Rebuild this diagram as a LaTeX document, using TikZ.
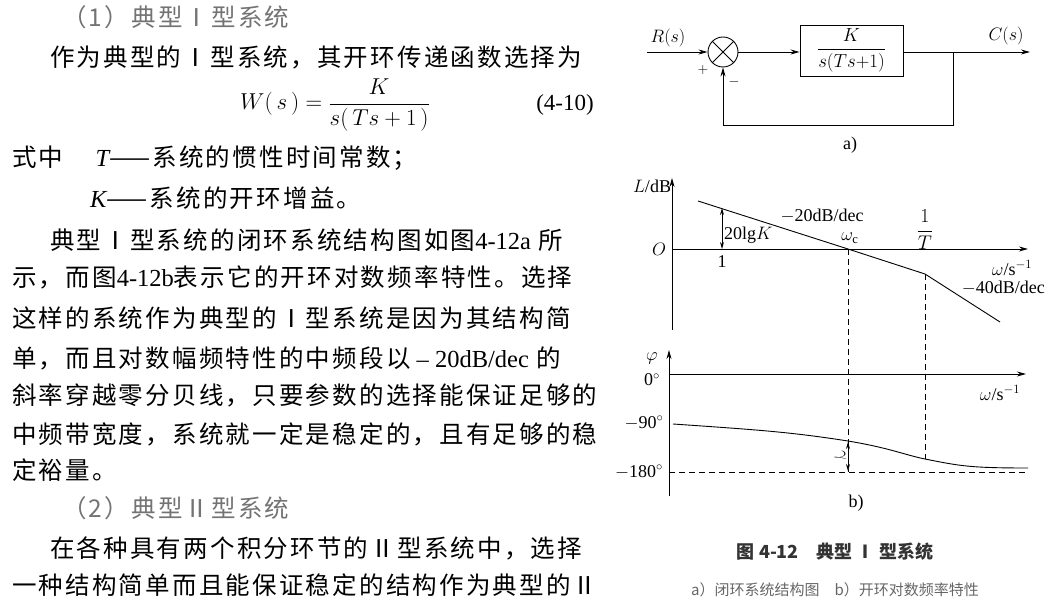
\RequirePackage{fix-cm}
\documentclass[tikz,border=0pt]{standalone}
\usepackage{amsmath}
\usepackage{fontspec}
\setmainfont{Liberation Serif}
\newfontfamily\cjk[LetterSpace=9]{Noto Sans CJK SC}
\newfontfamily\cjkb{Noto Sans CJK SC}
\usetikzlibrary{arrows.meta}
\begin{document}
\begin{tikzpicture}[x=1pt,y=-1pt,
  body/.style={anchor=west,inner sep=0pt,font=\cjk\fontsize{24.5}{24.5}\selectfont},
  lbl/.style={inner sep=1pt,font=\fontsize{18}{18}\selectfont},
  ln/.style={line width=0.9pt},
  arr/.style={ln,-{Stealth[length=9pt,width=5pt]}},
  dsh/.style={line width=0.8pt,dash pattern=on 6pt off 4pt}]
\useasboundingbox (0,0) rectangle (1050,609);
% left text
\node[body,text=black!55] (t1) at (62,17) {（1）典型Ⅰ型系统};
\node[body] (t2) at (50,57) {作为典型的Ⅰ型系统，其开环传递函数选择为};
\node[inner sep=0pt,font=\fontsize{23}{23}\selectfont] (eq) at (335,105) {$W(\,s\,)=\dfrac{K}{s(\,Ts+1\,)}$};
\node[inner sep=0pt,font=\fontsize{23}{23}\selectfont] (eqn) at (565,105) {(4-10)};
\node[body] (t3) at (12,158) {式中\quad\ {\itshape\rmfamily T}——系统的惯性时间常数；};
\node[body] (t4) at (90,198) {{\itshape\rmfamily K}——系统的开环增益。};
\node[body] (t5) at (50,240) {典型Ⅰ型系统的闭环系统结构图如图{\rmfamily 4-12a} 所};
\node[body] (t6) at (12,277) {示，而图{\rmfamily 4-12b}表示它的开环对数频率特性。选择};
\node[body] (t7) at (12,318) {这样的系统作为典型的Ⅰ型系统是因为其结构简};
\node[body] (t8) at (12,358) {单，而且对数幅频特性的中频段以{\rmfamily\ -- 20dB/dec} 的};
\node[body] (t9) at (12,395) {斜率穿越零分贝线，只要参数的选择能保证足够的};
\node[body] (t10) at (12,434) {中频带宽度，系统就一定是稳定的，且有足够的稳};
\node[body] (t11) at (12,470) {定裕量。};
\node[body,text=black!55] (t12) at (62,508) {（2）典型Ⅱ型系统};
\node[body] (t13) at (50,548) {在各种具有两个积分环节的Ⅱ型系统中，选择};
\node[body] (t14) at (12,585) {一种结构简单而且能保证稳定的结构作为典型的Ⅱ};
% block diagram
\coordinate (in) at (647,52);
\node[circle,draw,ln,minimum size=30pt,inner sep=0pt] (sum) at (723,52) {};
\draw[ln] (sum.45)--(sum.225) (sum.135)--(sum.315);
\node[draw,ln,minimum width=103pt,minimum height=51pt,inner sep=0pt,font=\fontsize{18}{18}\selectfont] (G) at (851.5,50.5) {\scalebox{1.05}{$\dfrac{K}{s(Ts{+}1)}$}};
\coordinate (out) at (1030,52);
\coordinate (br) at (953,52);
\draw[arr] (in)--(sum);
\draw[arr] (sum)--(G.west|-sum);
\draw[arr] (G.east|-br)--(out);
\draw[arr] (br)--(953,125)--(723,125)--(sum.south);
\node[lbl] (R) at (668,38) {$R(s)$};
\node[lbl] (C) at (1006,36) {$C(s)$};
\node[lbl,font=\fontsize{14}{14}\selectfont] (plus) at (703,70) {$+$};
\node[lbl,font=\fontsize{14}{14}\selectfont] (minus) at (734,82) {$-$};
\node[lbl] (a) at (850,145) {a)};
% magnitude plot
\coordinate (Lo) at (672,330);
\coordinate (Lt) at (672,178);
\draw[arr] (Lo)--(Lt);
\coordinate (xo) at (672,249);
\coordinate (xe) at (1028,249);
\draw[arr] (xo)--(xe);
\coordinate (p0) at (698,201); \coordinate (pc) at (848,249);
\coordinate (pb) at (925,274); \coordinate (pe) at (1000,322);
\draw[ln] (p0)--(pc)--(pb)--(pe);
\draw[ln,{Stealth[length=7pt,width=4pt]}-{Stealth[length=7pt,width=4pt]}] (722,208)--(722,249);
\node[lbl,anchor=west] (k) at (723,235) {20lg$K$};
\node[lbl] (one) at (722,262) {1};
\node[lbl] (m20) at (822,216) {$-$20dB/dec};
\node[lbl] (wc) at (850,238) {$\omega_{\rm c}$};
\node[lbl] (iT) at (925,230) {\scalebox{1.1}{$\dfrac{1}{T}$}};
\node[lbl] (O) at (659,249) {$O$};
\node[lbl] (L) at (652,186) {$L$/dB};
\node[lbl] (wx1) at (1012,268) {$\omega$/s$^{-1}$};
\node[lbl,anchor=east] (m40) at (1046,288) {$-$40dB/dec};
% phase plot
\coordinate (Po) at (669,496);
\coordinate (Pt) at (669,350);
\draw[arr] (Po)--(Pt);
\coordinate (zo) at (669,374);
\coordinate (ze) at (1026,374);
\draw[arr] (zo)--(ze);
\draw[dsh] (669,472)--(1028,472);
\draw[dsh] (pc)--(848,472);
\draw[dsh] (pb)--(925,459);
\draw[ln] (673,424) .. controls (760,430) and (790,432) .. (848,441)
  .. controls (890,448) and (905,455) .. (925,459)
  .. controls (960,466) and (970,468) .. (1028,468);
\draw[ln,{Stealth[length=7pt,width=4pt]}-{Stealth[length=7pt,width=4pt]}] (848,442)--(848,471);
\node[lbl,rotate=-80] (g) at (840,456) {$\gamma$};
\node[lbl] (phi) at (652,358) {$\varphi$};
\node[lbl] (z0) at (652,380) {0$^\circ$};
\node[lbl] (z90) at (644,423) {$-$90$^\circ$};
\node[lbl] (z180) at (639,472) {$-$180$^\circ$};
\node[lbl] (wx2) at (1000,393) {$\omega$/s$^{-1}$};
\node[lbl] (b) at (856,503) {b)};
\node[inner sep=0pt,font=\cjkb\bfseries\fontsize{18}{18}\selectfont,text=black!80] (cap) at (835,552) {图 4-12\quad 典型 Ⅰ 型系统};
\node[inner sep=0pt,font=\cjkb\fontsize{15}{15}\selectfont,text=black!60] (sub) at (835,590) {a）闭环系统结构图\quad b）开环对数频率特性};
\end{tikzpicture}
\end{document}
